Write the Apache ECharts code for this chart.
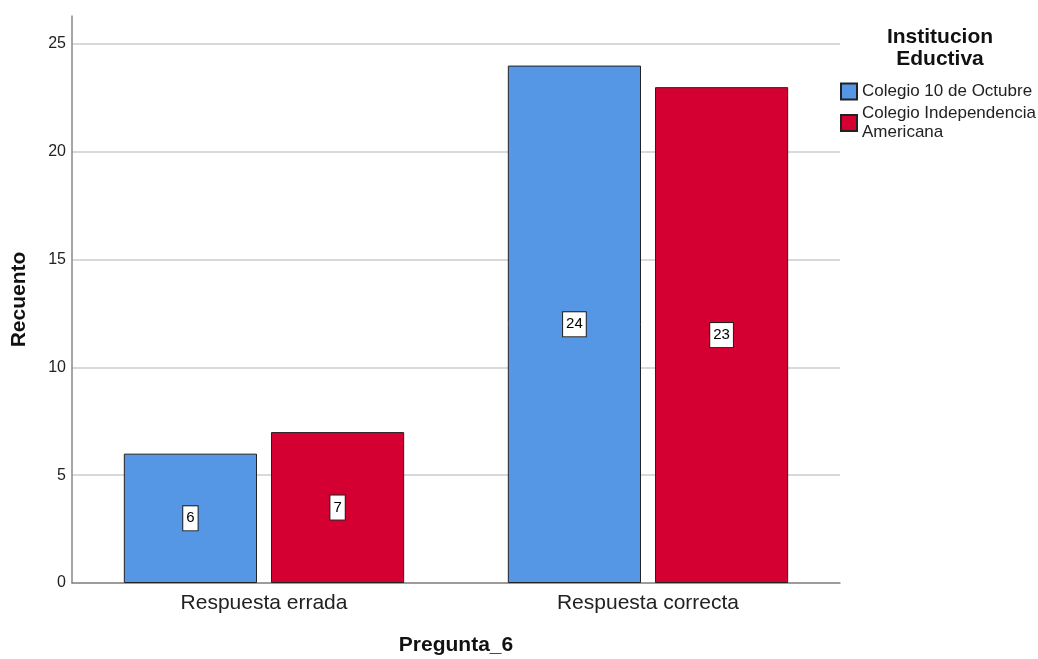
<!DOCTYPE html>
<html>
<head>
<meta charset="utf-8">
<script src="https://cdn.jsdelivr.net/npm/echarts@6/dist/echarts.min.js"></script>
<style>
  html, body { margin: 0; padding: 0; background: #fff; }
  #chart { width: 1038px; height: 659px; }
</style>
</head>
<body>
<div id="chart"></div>
<script>
// datos
const categorias = ['Respuesta errada', 'Respuesta correcta']
const series = ['Colegio 10 de Octubre', 'Colegio Independencia\nAmericana']
const colegio10 = [6, 24]
const independencia = [7, 23]
const colores = ['#5596e5', '#d50032']

const chart = echarts.init(document.getElementById('chart'))

const barLabel = {
  show: true,
  position: 'inside',
  color: '#000',
  fontFamily: 'Liberation Sans, Arial, sans-serif',
  fontSize: 15,
  backgroundColor: '#fff',
  borderColor: '#222',
  borderWidth: 1,
  padding: [5, 3, 4, 3]
}

const option = {
  animation: false,
  textStyle: { fontFamily: 'Liberation Sans, Arial, sans-serif' },
  grid: { left: 72, right: 198, top: 16, bottom: 76, outerBoundsMode: 'none' },
  graphic: [{
    type: 'text',
    x: 940,
    y: 26,
    style: {
      text: 'Institucion\nEductiva',
      textAlign: 'center',
      fontSize: 21,
      fontWeight: 'bold',
      lineHeight: 22,
      fill: '#111',
      fontFamily: 'Liberation Sans, Arial, sans-serif'
    }
  }],
  legend: {
    orient: 'vertical',
    left: 835,
    top: 77,
    itemWidth: 16,
    itemHeight: 16,
    itemGap: 3,
    icon: 'rect',
    data: series,
    textStyle: { fontSize: 17, color: '#222', lineHeight: 19 }
  },
  xAxis: {
    type: 'category',
    data: categorias,
    name: 'Pregunta_6',
    nameLocation: 'middle',
    nameGap: 52,
    nameTextStyle: { fontSize: 21, fontWeight: 'bold', color: '#111' },
    axisLine: { lineStyle: { color: '#888', width: 1.5 } },
    axisTick: { show: false },
    axisLabel: { fontSize: 21, color: '#222', margin: 10 }
  },
  yAxis: {
    type: 'value',
    min: 0,
    max: 26.3,
    interval: 5,
    name: 'Recuento',
    nameLocation: 'middle',
    nameGap: 42,
    nameTextStyle: { fontSize: 21, fontWeight: 'bold', color: '#111' },
    axisLine: { show: true, lineStyle: { color: '#888', width: 1.5 } },
    axisTick: { show: false },
    axisLabel: { fontSize: 16, color: '#222', margin: 6, showMaxLabel: false },
    splitLine: { showMaxLine: false, lineStyle: { color: '#ccc', width: 1.5 } }
  },
  series: [
    {
      name: series[0],
      type: 'bar',
      data: colegio10,
      barGap: '10.5%',
      barCategoryGap: '27%',
      itemStyle: { color: colores[0], borderColor: '#222', borderWidth: 1 },
      label: barLabel
    },
    {
      name: series[1],
      type: 'bar',
      data: independencia,
      itemStyle: { color: colores[1], borderColor: '#222', borderWidth: 1 },
      label: barLabel
    }
  ]
}

chart.setOption(option)
window.addEventListener('resize', () => chart.resize())
</script>
</body>
</html>
